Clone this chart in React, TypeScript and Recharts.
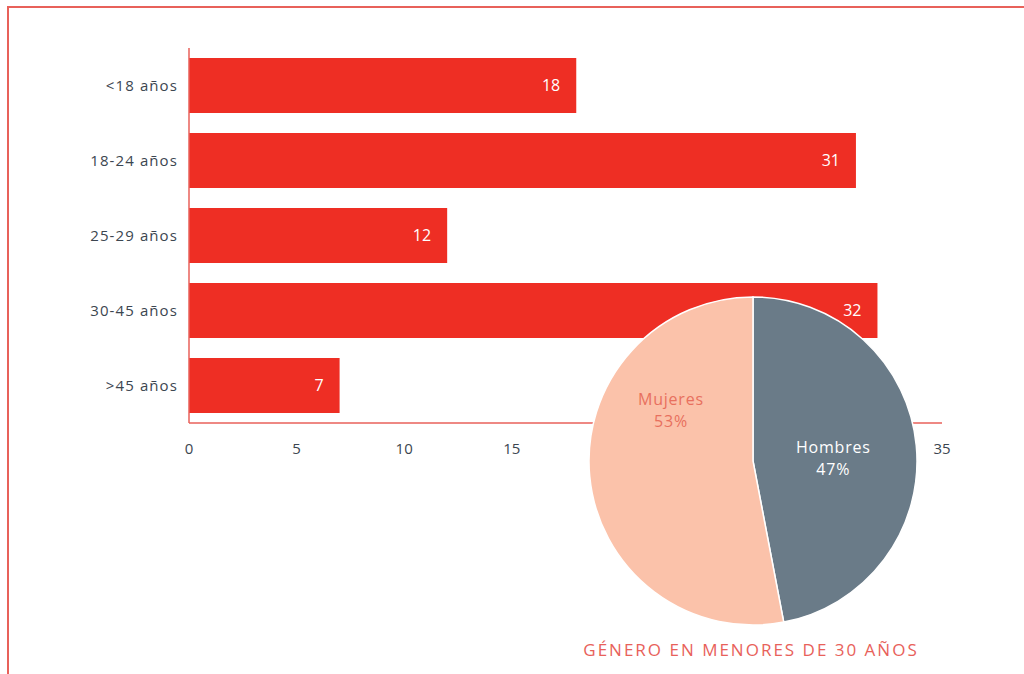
import { BarChart, Bar, XAxis, YAxis, LabelList, PieChart, Pie, Cell } from "recharts";

const ageGroups = ["<18 años", "18-24 años", "25-29 años", "30-45 años", ">45 años"];
const ageCounts = [18, 31, 12, 32, 7];
// 20, 25 and 30 sit behind the pie in the original, so they are left out
const xTicks = [0, 5, 10, 15, 35];

const genderNames = ["Hombres", "Mujeres"];
const genderShares = [47, 53];

const barData = ageGroups.map((g, i) => ({ group: g, value: ageCounts[i] }));
const pieData = genderNames.map((n, i) => ({ name: n, value: genderShares[i] }));

const FONT = "'Open Sans', sans-serif";
const RED = "#ee2e24";
const LINE = "#e8615a";
const TEXT = "#3c4650";
const PIE_COLORS = ["#6a7b88", "#fbc2aa"];
const PIE_LABEL_COLORS = ["#ffffff", "#e8705e"];
// label placement: [angle in degrees, radius as share of outer radius]
const PIE_LABEL_POS = [
  [2, 0.49],
  [148, 0.59],
];

const PIE_CX = 753;
const PIE_CY = 461;
const PIE_R = 164;

function PieLabel(props: any) {
  const { index, name, value } = props;
  const [ang, rf] = PIE_LABEL_POS[index];
  const rad = (ang * Math.PI) / 180;
  const x = PIE_CX + Math.cos(rad) * PIE_R * rf;
  const y = PIE_CY - Math.sin(rad) * PIE_R * rf;
  const style = { fontFamily: FONT, fontSize: 16, letterSpacing: 0.8 };
  return (
    <g>
      <text x={x} y={y - 5} textAnchor="middle" fill={PIE_LABEL_COLORS[index]} style={style}>
        {name}
      </text>
      <text x={x} y={y + 17} textAnchor="middle" fill={PIE_LABEL_COLORS[index]} style={style}>
        {value}%
      </text>
    </g>
  );
}

export default function App() {
  return (
    <div style={{ position: "fixed", left: 0, top: 0, width: 1024, height: 674, background: "#fff", overflow: "hidden" }}>
      <div
        style={{
          position: "absolute",
          left: 7,
          top: 6,
          right: 0,
          bottom: 0,
          borderTop: `2px solid ${LINE}`,
          borderLeft: `2px solid ${LINE}`,
        }}
      />
      <div style={{ position: "absolute", left: 0, top: 0 }}>
        <BarChart
          width={1024}
          height={674}
          data={barData}
          layout="vertical"
          margin={{ top: 48, right: 82, bottom: 221, left: 0 }}
          barSize={55}
        >
          <XAxis
            type="number"
            dataKey="value"
            domain={[0, 35]}
            ticks={xTicks}
            tickLine={false}
            axisLine={{ stroke: LINE, strokeWidth: 1.5 }}
            tick={{ fill: TEXT, fontSize: 15, fontFamily: FONT }}
            tickMargin={14}
            height={30}
          />
          <YAxis
            type="category"
            dataKey="group"
            width={189}
            tickLine={false}
            axisLine={{ stroke: LINE, strokeWidth: 1.5 }}
            tick={{ fill: TEXT, fontSize: 15, fontFamily: FONT, letterSpacing: 1.1 }}
            tickMargin={5}
          />
          <Bar dataKey="value" fill={RED} isAnimationActive={false}>
            <LabelList
              dataKey="value"
              position="insideRight"
              offset={16}
              fill="#ffffff"
              fontSize={16}
              fontFamily={FONT}
            />
          </Bar>
        </BarChart>
      </div>
      <div style={{ position: "absolute", left: 0, top: 0 }}>
        <PieChart width={1024} height={674} margin={{ top: 0, right: 0, bottom: 0, left: 0 }}>
          <Pie
            data={pieData}
            dataKey="value"
            nameKey="name"
            cx={PIE_CX}
            cy={PIE_CY}
            outerRadius={PIE_R}
            startAngle={90}
            endAngle={-270}
            stroke="#ffffff"
            strokeWidth={1.5}
            label={PieLabel}
            labelLine={false}
            isAnimationActive={false}
          >
            {pieData.map((_, i) => (
              <Cell key={`cell-${i}`} fill={PIE_COLORS[i]} />
            ))}
          </Pie>
        </PieChart>
      </div>
      <div
        style={{
          position: "absolute",
          left: 551,
          width: 400,
          top: 638,
          textAlign: "center",
          color: LINE,
          fontFamily: FONT,
          fontSize: 17,
          letterSpacing: 2,
        }}
      >
        GÉNERO EN MENORES DE 30 AÑOS
      </div>
    </div>
  );
}
